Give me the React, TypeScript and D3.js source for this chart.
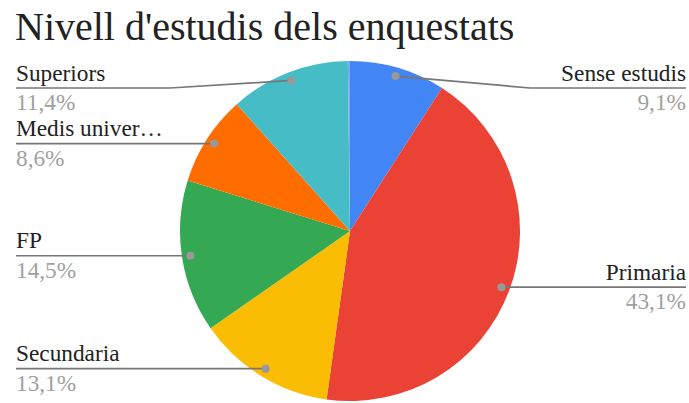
import React from "react";
import * as d3 from "d3";

const categories = ["Sense estudis", "Primaria", "Secundaria", "FP", "Medis univer…", "Superiors", "Altres"];
const values = [9.1, 43.1, 13.1, 14.5, 8.6, 11.4, 0.2];
const percentLabels = ["9,1%", "43,1%", "13,1%", "14,5%", "8,6%", "11,4%", "0,2%"];
const colors = ["#4285F4", "#EA4335", "#FBBC04", "#34A853", "#FF6D01", "#46BDC6", "#7BAAF7"];
const title = "Nivell d'estudis dels enquestats";

const W = 689;
const H = 403;
const cx = 350;
const cy = 231;
const R = 170;
const FONT = "'Liberation Serif', Tinos, 'Noto Serif', 'DejaVu Serif', 'Nimbus Roman', FreeSerif, Times, Georgia, serif";

export default function App() {
  const data = categories.map((c, i) => ({ c, v: values[i], p: percentLabels[i], col: colors[i] }));
  const pie = d3.pie<any>().value((d: any) => d.v).sort(null);
  const arcs = pie(data);
  const arcGen = d3.arc<any>().innerRadius(0).outerRadius(R);
  const minLineY = 88;
  const leftX = 16;
  const rightX = 686;
  const ts = { fontFamily: FONT } as React.CSSProperties;

  return (
    <svg width={W} height={H} style={{ position: "absolute", left: 0, top: 0, fontFamily: FONT }}>
      <rect width={W} height={H} fill="#fff" />
      <text x={15} y={40} fontSize={40} fill="#222" style={ts}>{title}</text>
      <g transform={`translate(${cx},${cy})`}>
        {arcs.map((a, i) => (
          <path key={i} d={arcGen(a) as string} fill={a.data.col} />
        ))}
      </g>
      {arcs.map((a, i) => {
        if (a.data.v < 1) return null;
        const mid = (a.startAngle + a.endAngle) / 2;
        const dx = cx + Math.sin(mid) * R * 0.95;
        const dy = cy - Math.cos(mid) * R * 0.95;
        const right = Math.sin(mid) > 0;
        const ly = Math.max(dy, minLineY);
        const endX = right ? rightX : leftX;
        let d: string;
        if (Math.abs(ly - dy) > 0.5) {
          const bx = right ? cx + R + 10 : cx - R - 10;
          d = `M${dx},${dy}L${bx},${ly}L${endX},${ly}`;
        } else {
          d = `M${dx},${dy}L${endX},${ly}`;
        }
        return (
          <g key={"l" + i}>
            <path d={d} fill="none" stroke="#777" strokeWidth={1.7} />
            <circle cx={dx} cy={dy} r={4} fill="#999" />
            <text x={endX} y={ly - 7.5} fontSize={23.3} fill="#222" textAnchor={right ? "end" : "start"} style={ts}>
              {a.data.c}
            </text>
            <text x={endX} y={ly + 22} fontSize={23.3} fill="#a0a0a0" textAnchor={right ? "end" : "start"} style={ts}>
              {a.data.p}
            </text>
          </g>
        );
      })}
    </svg>
  );
}
